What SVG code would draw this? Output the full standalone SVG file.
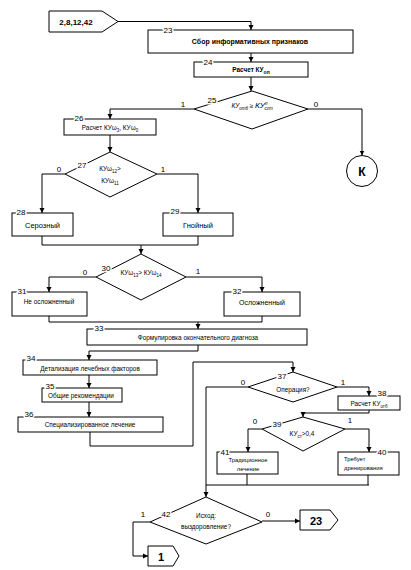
<svg xmlns="http://www.w3.org/2000/svg" width="411" height="570" viewBox="0 0 411 570">
<defs>
<marker id="ah" markerUnits="userSpaceOnUse" markerWidth="6" markerHeight="6" refX="5" refY="3" orient="auto">
<path d="M0,0.5 L5,3 L0,5.5 Z" fill="#000"/>
</marker>
<style>
.box{fill:#fff;stroke:#000;stroke-width:1}
.con{fill:none;stroke:#000;stroke-width:1}
.arr{marker-end:url(#ah)}
text{font-family:"Liberation Sans",Arial,sans-serif;fill:#000}
.t{font-size:6.4px;text-anchor:middle}
.tl{font-size:6.4px}
.num{font-size:8px;text-anchor:middle;stroke:#fff;stroke-width:3;paint-order:stroke;stroke-linejoin:round}
.yn{font-size:8px;text-anchor:middle}
.b{font-weight:bold}
</style>
</defs>
<rect width="411" height="570" fill="#fff"/>
<g id="connectors">
<path class="con arr" d="M118,21.5 H251 V30"/>
<path class="con arr" d="M251,53 V62"/>
<path class="con arr" d="M251,77 V91"/>
<path class="con arr" d="M194,109 H110 V119"/>
<path class="con arr" d="M308,109 H362 V155.5"/>
<path class="con arr" d="M110,135 V152"/>
<path class="con arr" d="M65,174 H42 V213"/>
<path class="con arr" d="M157,174 H198 V213"/>
<path class="con" d="M42,236 V245 H198 V236"/>
<path class="con arr" d="M141,245 V254"/>
<path class="con arr" d="M96,277 H49 V292"/>
<path class="con arr" d="M186,277 H262 V292"/>
<path class="con" d="M49,316 V322 H262 V316"/>
<path class="con arr" d="M198,322 V329"/>
<path class="con arr" d="M198,345 V351 H89 V360"/>
<path class="con arr" d="M89,375 V388"/>
<path class="con arr" d="M89,402 V417"/>
<path class="con arr" d="M90,432 V446 H193 V362 H293 V372"/>
<path class="con arr" d="M248,387 H206 V497"/>
<path class="con arr" d="M337,387 H369 V396"/>
<path class="con arr" d="M369,410 V413 H303 V417"/>
<path class="con arr" d="M262,429 H248 V452"/>
<path class="con arr" d="M345,429 H369 V452"/>
<path class="con" d="M247,474 V485 M368,475 V485 M206,485 H369"/>
<path class="con arr" d="M150,522 H133 V556 H148"/>
<path class="con arr" d="M262,521 H300"/>
</g>
<g id="start">
<path class="box" d="M49,11 H102 L118,21.5 L102,32 H49 Z"/>
<text class="t b" x="76" y="24.5" style="font-size:8px">2,8,12,42</text>
</g>
<g id="n23">
<rect class="box" x="148" y="30" width="205" height="23"/>
<text class="num" x="168" y="33">23</text>
<text class="t b" x="250" y="44" style="font-size:7px">Сбор информативных признаков</text>
</g>
<g id="n24">
<rect class="box" x="194" y="62" width="114" height="15"/>
<text class="num" x="208" y="65">24</text>
<text class="t b" x="251" y="72">Расчет КУ<tspan dy="1.5" style="font-size:5px">оп</tspan></text>
</g>
<g id="n25">
<path class="box" d="M252,91 L308,109 L252,129 L194,109 Z"/>
<text class="num" x="212" y="103">25</text>
<text class="t" x="252" y="108" style="font-style:italic">КУ<tspan dy="1.5" style="font-size:4.5px">отб</tspan><tspan dy="-1.5"> ≥ </tspan><tspan style="font-size:8px">КУ</tspan><tspan dy="-3" style="font-size:4.5px">п</tspan><tspan dx="-3" dy="5" style="font-size:4.5px">сгт</tspan></text>
<text class="yn" x="183" y="107">1</text>
<text class="yn" x="316" y="107">0</text>
</g>
<g id="nK">
<circle class="box" cx="362" cy="171" r="15.5"/>
<text class="t b" x="362" y="175.5" style="font-size:12px">К</text>
</g>
<g id="n26">
<rect class="box" x="64" y="119" width="92" height="16"/>
<text class="num" x="79" y="121">26</text>
<text class="t" x="110" y="130">Расчет КУω<tspan dy="1.5" style="font-size:4.5px">3</tspan><tspan dy="-1.5">, КУω</tspan><tspan dy="1.5" style="font-size:4.5px">0</tspan></text>
</g>
<g id="n27">
<path class="box" d="M110,152 L157,174 L110,197 L65,174 Z"/>
<text class="num" x="82" y="168">27</text>
<text class="t" x="110" y="171">КУω<tspan dy="1.5" style="font-size:4.5px">12</tspan><tspan dy="-1.5">&gt;</tspan></text>
<text class="t" x="110" y="183">КУω<tspan dy="1.5" style="font-size:4.5px">11</tspan></text>
<text class="yn" x="59" y="172">0</text>
<text class="yn" x="163" y="172">1</text>
</g>
<g id="n28">
<rect class="box" x="12" y="213" width="61" height="23"/>
<text class="num" x="21" y="215">28</text>
<text class="t" x="42.5" y="228" style="font-size:7.5px">Серозный</text>
</g>
<g id="n29">
<rect class="box" x="163" y="213" width="70" height="23"/>
<text class="num" x="175" y="214">29</text>
<text class="t" x="198" y="228" style="font-size:7.5px">Гнойный</text>
</g>
<g id="n30">
<path class="box" d="M141,254 L186,277 L141,300 L96,277 Z"/>
<text class="num" x="106" y="271">30</text>
<text class="t" x="141" y="275">КУω<tspan dy="1.5" style="font-size:4.5px">13</tspan><tspan dy="-1.5">&gt; КУω</tspan><tspan dy="1.5" style="font-size:4.5px">14</tspan></text>
<text class="yn" x="85" y="275">0</text>
<text class="yn" x="198" y="274">1</text>
</g>
<g id="n31">
<rect class="box" x="12" y="292" width="75" height="24"/>
<text class="num" x="22" y="294">31</text>
<text class="t" x="49" y="304">Не осложненный</text>
</g>
<g id="n32">
<rect class="box" x="224" y="292" width="76" height="24"/>
<text class="num" x="237" y="294">32</text>
<text class="t" x="262" y="305" style="font-size:7px">Осложненный</text>
</g>
<g id="n33">
<rect class="box" x="87" y="329" width="220" height="16"/>
<text class="num" x="99" y="331">33</text>
<text class="t" x="198" y="340">Формулировка окончательного диагноза</text>
</g>
<g id="n34">
<rect class="box" x="23" y="360" width="134" height="15"/>
<text class="num" x="31" y="361">34</text>
<text class="t" x="90" y="370.5">Детализация лечебных факторов</text>
</g>
<g id="n35">
<rect class="box" x="42" y="388" width="80" height="14"/>
<text class="num" x="50" y="389">35</text>
<text class="tl" x="48" y="398">Общие рекомендации</text>
</g>
<g id="n36">
<rect class="box" x="18" y="417" width="145" height="15"/>
<text class="num" x="29" y="417">36</text>
<text class="t" x="90" y="427">Специализированное лечение</text>
</g>
<g id="n37">
<path class="box" d="M293,372 L337,387 L293,402 L248,387 Z"/>
<text class="num" x="282" y="379">37</text>
<text class="t" x="293" y="392">Операция?</text>
<text class="yn" x="243" y="385">0</text>
<text class="yn" x="343" y="385">1</text>
</g>
<g id="n38">
<rect class="box" x="338" y="396" width="62" height="14"/>
<text class="num" x="382" y="396">38</text>
<text class="t" x="369" y="406">Расчет КУ<tspan dy="1.5" style="font-size:4.5px">отб</tspan></text>
</g>
<g id="n39">
<path class="box" d="M303,417 L345,429 L303,451 L262,429 Z"/>
<text class="num" x="277" y="427">39</text>
<text class="t" x="302" y="436">КУ<tspan dy="1.5" style="font-size:4.5px">ст</tspan><tspan dy="-1.5">&gt;0,4</tspan></text>
<text class="yn" x="255" y="424">0</text>
<text class="yn" x="350" y="423">1</text>
</g>
<g id="n41">
<rect class="box" x="217" y="452" width="61" height="22"/>
<text class="num" x="225" y="455">41</text>
<text class="t" x="248" y="462" style="font-size:5.8px">Традиционное</text>
<text class="t" x="248" y="471" style="font-size:5.8px">лечение</text>
</g>
<g id="n40">
<rect class="box" x="338" y="452" width="61" height="23"/>
<text class="num" x="382" y="455">40</text>
<text class="tl" x="344" y="461" style="font-size:5.8px">Требует</text>
<text class="tl" x="344" y="470" style="font-size:5.8px">дренирования</text>
</g>
<g id="n42">
<path class="box" d="M206,497 L262,522 L206,544 L150,522 Z"/>
<text class="num" x="166" y="517">42</text>
<text class="t" x="206" y="518">Исход:</text>
<text class="t" x="206" y="529">выздоровление?</text>
<text class="yn" x="143" y="517">1</text>
<text class="yn" x="268" y="517">0</text>
</g>
<g id="end1">
<path class="box" d="M148,546 H173 L179,556 L173,566 H148 Z"/>
<text class="t b" x="161" y="560.5" style="font-size:11px">1</text>
</g>
<g id="end23">
<path class="box" d="M300,510 H330 L338,520 L330,530 H300 Z"/>
<text class="t b" x="316" y="524.5" style="font-size:11px">23</text>
</g>
</svg>
